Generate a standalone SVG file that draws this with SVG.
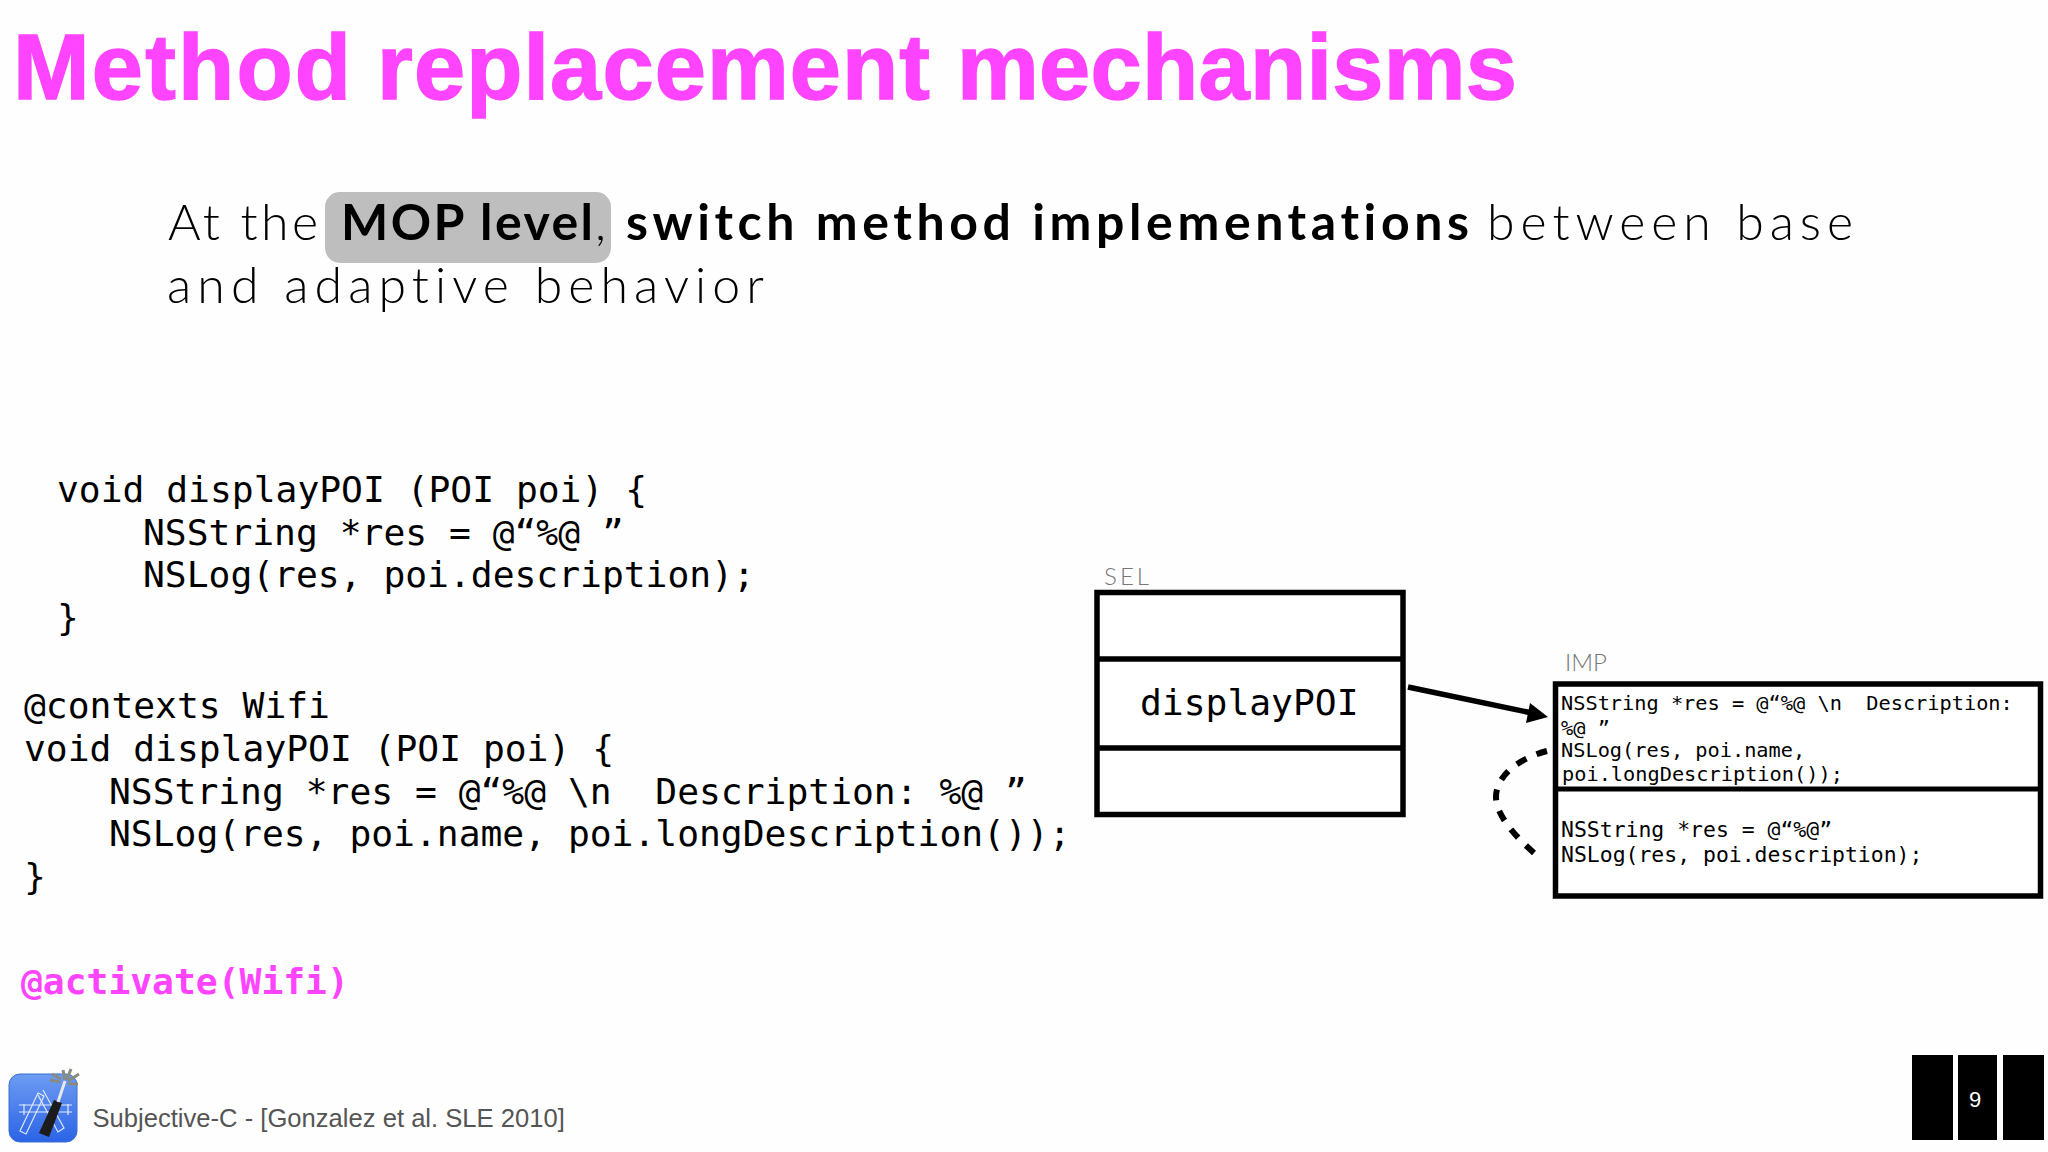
<svg xmlns="http://www.w3.org/2000/svg" width="2048" height="1152" viewBox="0 0 2048 1152">
<style>
text{white-space:pre;font-variant-ligatures:none}
.code{font-family:"DejaVu Sans Mono",monospace;font-size:36.3px;fill:#000}
.imp{font-family:"DejaVu Sans Mono",monospace;fill:#000}
.imp1{font-size:20.3px}
.imp2{font-size:21.45px}
.thin{font-family:"Lato",sans-serif;font-weight:300;font-size:50px;fill:#000}
.bold{font-family:"Lato",sans-serif;font-weight:700;font-size:50px;fill:#000}
.lbl{font-family:"Lato",sans-serif;font-weight:300;font-size:24px;fill:#777}
.box{fill:#fff;stroke:#000;stroke-width:5.5}
.pg{fill:#000}
.title{font-family:"Liberation Sans",Arial,sans-serif;font-weight:700;font-size:92px;fill:#ff44ff;stroke:#ff44ff;stroke-width:1.4}
</style>
<defs>
<linearGradient id="ig" x1="0" y1="0" x2="0" y2="1"><stop offset="0" stop-color="#6d9cf2"/><stop offset="1" stop-color="#2b63e6"/></linearGradient>
</defs>
<rect width="2048" height="1152" fill="#fefefe"/>
<text class="title" y="99"><tspan x="13" textLength="338">Method</tspan> <tspan x="377" textLength="553">replacement</tspan> <tspan x="957" textLength="560">mechanisms</tspan></text>
<rect x="325" y="192" width="286" height="71" rx="15" fill="#bfbebf"/>
<text class="thin" x="168" y="240" textLength="150">At the</text>
<text class="bold" x="341" y="240" textLength="252">MOP level</text>
<text class="thin" x="595" y="240">,</text>
<text class="bold" x="626" y="240" textLength="843">switch method implementations</text>
<text class="thin" x="1487" y="240" textLength="366">between base</text>
<text class="thin" x="167" y="303" textLength="597">and adaptive behavior</text>
<g id="code1">
<text class="code" x="57" y="502">void displayPOI (POI poi) {</text>
<text class="code" x="143" y="545">NSString *res = @“%@ ”</text>
<text class="code" x="143" y="587">NSLog(res, poi.description);</text>
<text class="code" x="57" y="630">}</text>
</g>
<g id="code2">
<text class="code" x="24" y="718">@contexts Wifi</text>
<text class="code" x="24" y="761">void displayPOI (POI poi) {</text>
<text class="code" x="109" y="804">NSString *res = @“%@ \n  Description: %@ ”</text>
<text class="code" x="109" y="846">NSLog(res, poi.name, poi.longDescription());</text>
<text class="code" x="24" y="889">}</text>
</g>
<text class="code" x="21" y="994" font-weight="700" style="fill:#ff44ff">@activate(Wifi)</text>
<g id="sel">
<text class="lbl" x="1104" y="585" textLength="45">SEL</text>
<rect class="box" x="1097" y="592.5" width="306" height="222"/>
<path d="M1097 659H1403M1097 748H1403" stroke="#000" stroke-width="5.5" fill="none"/>
<text class="code" x="1140" y="715">displayPOI</text>
</g>
<g id="imp">
<text class="lbl" x="1565" y="671">IMP</text>
<rect class="box" x="1555.5" y="684" width="485" height="212"/>
<path d="M1555 789H2041" stroke="#000" stroke-width="5" fill="none"/>
<text class="imp imp1" x="1561" y="710">NSString *res = @“%@ \n  Description:</text>
<text class="imp imp1" x="1561" y="735">%@ ”</text>
<text class="imp imp1" x="1561" y="757">NSLog(res, poi.name,</text>
<text class="imp imp1" x="1562" y="781">poi.longDescription());</text>
<text class="imp imp2" x="1561" y="837">NSString *res = @“%@”</text>
<text class="imp imp2" x="1561" y="862">NSLog(res, poi.description);</text>
</g>
<g id="connectors" fill="none" stroke="#000">
<path d="M1408 687L1532 713" stroke-width="5.5"/>
<path d="M1548 717L1530 703L1526 723Z" fill="#000" stroke="none"/>
<path d="M1547 751C1520 758 1496 775 1496 797C1496 815 1515 836 1534 853" stroke-width="6" pathLength="100" stroke-dasharray="7.7 7.68"/>
</g>
<g id="icon">
<rect x="9" y="1074" width="68" height="68" rx="11" fill="url(#ig)" stroke="#3b6fd0" stroke-width="1"/>
<g fill="none" stroke="#dfe9fb" stroke-width="1.2">
<path d="M19 1105H72M19 1112H72"/>
<path d="M24 1104V1115M68 1104V1115"/>
<path d="M20 1131L38 1093L44 1096L26 1134Z"/>
<path d="M43 1090L64 1128L58 1132L38 1095"/>
</g>
<path d="M39 1133L54 1100L62 1103L49 1137Z" fill="#1c1c1c"/>
<path d="M58 1102L65 1081" stroke="#e8e8e8" stroke-width="3"/>
<path d="M65 1080L63 1070M67 1079L71 1069M68 1081L79 1074M68 1084L78 1084M61 1079L52 1074M60 1082L50 1080" stroke="#8a8a80" stroke-width="3" fill="none"/>
</g>
<text x="92.500" y="1127" font-family="Liberation Sans,Arial,sans-serif" font-size="25.600" fill="#555">Subjective-C - [Gonzalez et al. SLE 2010]</text>
<g id="pager">
<rect class="pg" x="1912" y="1055" width="41" height="85"/>
<rect class="pg" x="1958" y="1055" width="39" height="85"/>
<rect class="pg" x="2003" y="1055" width="41" height="85"/>
<text x="1975" y="1107" text-anchor="middle" font-family="Liberation Sans,Arial,sans-serif" font-size="22" fill="#fff">9</text>
</g>
</svg>
